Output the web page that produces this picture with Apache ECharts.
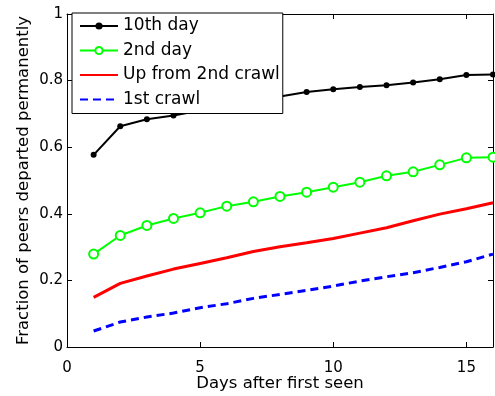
<!DOCTYPE html>
<html><head><meta charset="utf-8">
<script src="https://cdn.jsdelivr.net/npm/echarts@6/dist/echarts.min.js"></script>
<style>html,body{margin:0;padding:0;background:#fff}#c{width:495px;height:396px}</style>
</head><body><div id="c"></div>
<script>
const days = [1,2,3,4,5,6,7,8,9,10,11,12,13,14,15,16];
const tenthDay = [0.577,0.663,0.684,0.695,0.71,0.725,0.74,0.752,0.766,0.774,0.781,0.786,0.794,0.804,0.817,0.818];
const secondDay = [0.279,0.335,0.365,0.386,0.403,0.423,0.436,0.452,0.465,0.480,0.495,0.514,0.526,0.547,0.568,0.570];
const upFrom2nd = [0.149,0.191,0.213,0.234,0.251,0.268,0.287,0.301,0.313,0.326,0.342,0.358,0.379,0.399,0.415,0.433];
const firstCrawl = [0.048,0.075,0.090,0.102,0.118,0.130,0.146,0.158,0.170,0.183,0.198,0.211,0.223,0.239,0.256,0.279];
const names = ['10th day','2nd day','Up from 2nd crawl','1st crawl'];

const pair = arr => days.map((d,i)=>[d,arr[i]]);
const font = 'DejaVu Sans, sans-serif';
const chart = echarts.init(document.getElementById('c'));
const axisCommon = {
  axisLine:{show:true,onZero:false,lineStyle:{color:'#000',width:1}},
  axisTick:{show:true,inside:true,length:5,lineStyle:{color:'#000'}},
  splitLine:{show:false}
};
chart.setOption({
  animation:false,
  backgroundColor:'#fff',
  grid:{left:67,right:2,top:14,bottom:49,containLabel:false,outerBoundsMode:'none'},
  legend:{
    orient:'vertical',left:72,top:13,
    backgroundColor:'#fff',borderColor:'#000',borderWidth:1,borderRadius:0,
    padding:[4.5,3,5.5,7],itemGap:7.5,itemWidth:38,itemHeight:9,
    textStyle:{fontFamily:font,fontSize:17,lineHeight:17,color:'#000'},
    data:[
      {name:names[0]},
      {name:names[1]},
      {name:names[2],itemStyle:{opacity:0}},
      {name:names[3],itemStyle:{opacity:0}}
    ],z:10
  },
  xAxis:[
    Object.assign({type:'value',min:0,max:16,interval:5,position:'bottom',
      name:'Days after first seen',nameLocation:'middle',nameGap:28,nameMoveOverlap:false,
      nameTextStyle:{fontFamily:font,fontSize:16.5,color:'#000'},
      axisLabel:{fontFamily:font,fontSize:15,color:'#000',margin:14,showMaxLabel:false}},axisCommon),
    Object.assign({type:'value',min:0,max:16,interval:5,position:'top',axisLabel:{show:false}},axisCommon)
  ],
  yAxis:[
    Object.assign({type:'value',min:0,max:1,interval:0.2,position:'left',
      name:'Fraction of peers departed permanently',nameLocation:'middle',nameGap:35,nameMoveOverlap:false,
      nameTextStyle:{fontFamily:font,fontSize:16.5,color:'#000'},
      axisLabel:{fontFamily:font,fontSize:15,color:'#000',margin:4,
        formatter:v=>String(Math.round(v*10)/10)}},axisCommon),
    Object.assign({type:'value',min:0,max:1,interval:0.2,position:'right',axisLabel:{show:false}},axisCommon)
  ],
  series:[
    {name:names[0],type:'line',data:pair(tenthDay),symbol:'circle',symbolSize:6,
      lineStyle:{color:'#000',width:2},itemStyle:{color:'#000'}},
    {name:names[1],type:'line',data:pair(secondDay),symbol:'emptyCircle',symbolSize:9,
      lineStyle:{color:'#00ff00',width:2},itemStyle:{color:'#00ff00',borderWidth:2,borderColor:'#00ff00'}},
    {name:names[2],type:'line',data:pair(upFrom2nd),symbol:'none',
      lineStyle:{color:'#ff0000',width:3},itemStyle:{color:'#ff0000'}},
    {name:names[3],type:'line',data:pair(firstCrawl),symbol:'none',
      lineStyle:{color:'#0000ff',width:3,type:[8,5]},itemStyle:{color:'#0000ff'}}
  ]
});
</script></body></html>
